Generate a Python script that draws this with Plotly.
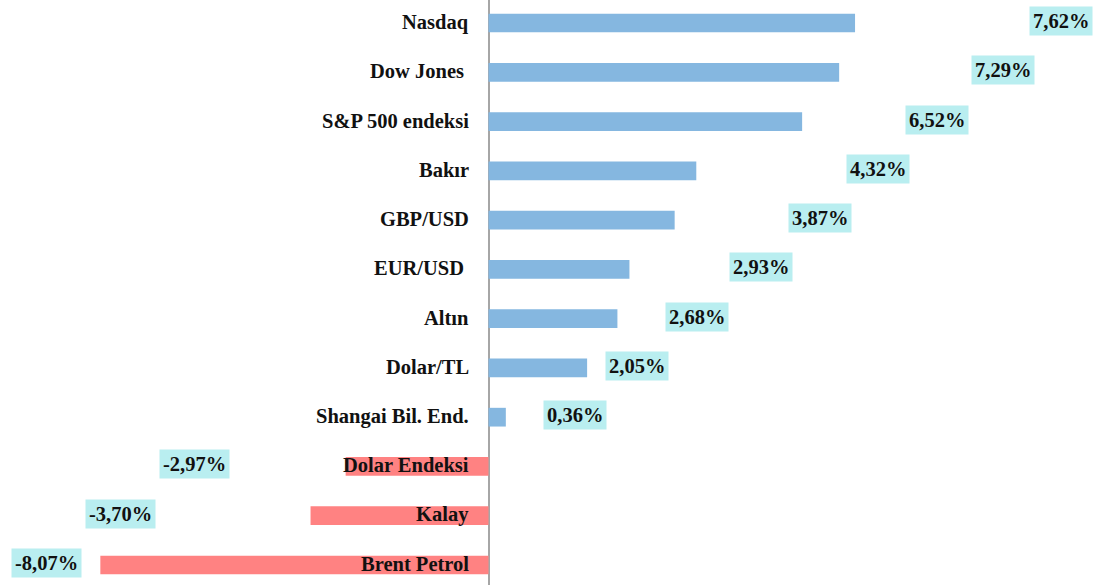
import plotly.graph_objects as go

categories = ["Nasdaq", "Dow Jones ", "S&P 500 endeksi", "Bakır", "GBP/USD", "EUR/USD ",
              "Altın", "Dolar/TL", "Shangai Bil. End.", "Dolar Endeksi", "Kalay", "Brent Petrol"]
values = [7.62, 7.29, 6.52, 4.32, 3.87, 2.93, 2.68, 2.05, 0.36, -2.97, -3.70, -8.07]
value_labels = ["7,62%", "7,29%", "6,52%", "4,32%", "3,87%", "2,93%", "2,68%", "2,05%",
                "0,36%", "-2,97%", "-3,70%", "-8,07%"]
# x positions (data units) where the value labels sit in the reference
label_x = [11.90, 10.70, 9.33, 8.10, 6.90, 5.67, 4.33, 3.09, 1.79, -6.12, -7.65, -9.18]

BLUE = "#85B7E0"
RED = "#FF8282"
LABEL_BG = "#B9EEF0"
FONT = "Liberation Serif"

colors = [BLUE if v >= 0 else RED for v in values]
idx = list(range(len(categories)))

fig = go.Figure()
fig.add_trace(go.Bar(
    x=values, y=idx, orientation="h",
    marker=dict(color=colors, line=dict(width=0)),
    width=0.38, hoverinfo="skip", showlegend=False,
))

annotations = []
for i, (cat, lx, lt) in enumerate(zip(categories, label_x, value_labels)):
    annotations.append(dict(
        x=0, y=i, xref="x", yref="y", text="<b>%s</b>" % cat,
        showarrow=False, xanchor="right", yanchor="middle", xshift=-18, yshift=1,
        font=dict(family=FONT, size=20.5, color="#111111"),
    ))
    annotations.append(dict(
        x=lx, y=i, xref="x", yref="y", text="<b>%s</b>" % lt,
        showarrow=False, xanchor="center", yanchor="middle", yshift=2,
        bgcolor=LABEL_BG, borderpad=3,
        font=dict(family=FONT, size=20.5, color="#111111"),
    ))

fig.update_layout(
    width=1094, height=585,
    margin=dict(l=0, r=0, t=0, b=0),
    paper_bgcolor="white", plot_bgcolor="white",
    xaxis=dict(range=[-10.156, 12.588], showgrid=False, showticklabels=False,
               zeroline=True, zerolinecolor="#A6A6A6", zerolinewidth=2, fixedrange=True),
    yaxis=dict(range=[11.406, -0.467], showgrid=False, showticklabels=False,
               zeroline=False, fixedrange=True),
    annotations=annotations,
    bargap=0.6,
)

fig.write_html("out.html", config={"displayModeBar": False},
               post_script="document.body.style.margin='0';document.body.style.overflow='hidden';")
